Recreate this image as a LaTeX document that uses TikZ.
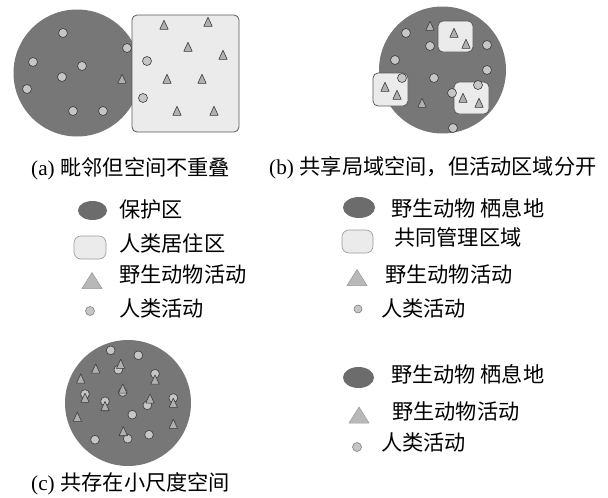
\documentclass[tikz,border=0pt]{standalone}
\usepackage{fontspec}
\setmainfont{Liberation Serif}
\newfontfamily\cjk{Noto Sans CJK SC}
\definecolor{zonegray}{HTML}{777777}
\definecolor{leggray}{HTML}{6C6C6C}
\definecolor{settlefill}{HTML}{EBEBEB}
\definecolor{markfill}{HTML}{C6C6C6}
\definecolor{trifill}{HTML}{B0B0B0}
\definecolor{markline}{HTML}{3C3C3C}
\begin{document}
\begin{tikzpicture}[x=1pt,y=-1pt,
  bigzone/.style={fill=zonegray},
  settle/.style={fill=settlefill,draw=black!65,line width=0.8pt,rounded corners=5pt},
  hum/.style={fill=markfill,draw=markline,line width=0.6pt},
  tristyle/.style={fill=trifill,draw=markline,line width=0.6pt,line join=round},
  wtri/.pic={\path[tristyle] (-4.2,4.4) -- (4.2,4.4) -- (0,-4.8) -- cycle;},
  legtri/.pic={\path[fill=trifill!90!white,draw=black!40,line width=0.5pt] (-10,8) -- (10,8) -- (0,-8) -- cycle;},
  legell/.style={fill=leggray},
  legbox/.style={fill=settlefill,draw=black!40,line width=0.6pt,rounded corners=7pt},
  leghum/.style={fill=markfill,draw=black!55,line width=0.5pt},
  txt/.style={anchor=base west,inner sep=0pt,font=\fontsize{21.2}{25}\selectfont\cjk}
]
\useasboundingbox (0,0) rectangle (608,498);

% ---------- panel (a)
\fill[bigzone] (77,73) circle (63.5);
\draw[settle] (132,15) rectangle (239,132);
\foreach \x/\y in {63/33,127/48,33/62,82/66,62/77,27/89,73/111,103/111,147/61,143/98}
  \draw[hum] (\x,\y) circle (4.5);
\foreach \x/\y in {164/25,208/22,188/47,223/55,122/79,167/79,202/79,177/111,214/111}
  \pic at (\x,\y) {wtri};
\node[txt] (capa) at (31,175) {{\rmfamily(a)}\hspace{1pt} 毗邻但空间不重叠};

% ---------- panel (b)
\fill[bigzone] (442.5,70) circle (63.5);
\draw[settle] (438,21) rectangle (473,52);
\draw[settle] (373,73) rectangle (408,106);
\draw[settle] (454,82) rectangle (489,114);
\foreach \x/\y in {430/26,454/33,466/44,385/87,397/95,422/103,463/98,479/103}
  \pic at (\x,\y) {wtri};
\foreach \x/\y in {406/33,430/46,487/45,395/60,487/70,402/78,434/78,478/85,452/93,453/128}
  \draw[hum] (\x,\y) circle (4.5);
\node[txt] (capb) at (269,174) {{\rmfamily(b)}\hspace{1pt} 共享局域空间，但活动区域分开};

% ---------- legend (a)
\fill[legell] (92.5,210.5) ellipse [x radius=14.5,y radius=9.5];
\draw[legbox] (74,236) rectangle (106,259);
\pic at (92,280.5) {legtri};
\draw[leghum] (90,311) circle (4.5);
\node[txt] (la1) at (119,217) {保护区};
\node[txt] (la2) at (119,251.5) {人类居住区};
\node[txt] (la3) at (119,282.5) {野生动物活动};
\node[txt] (la4) at (119,316) {人类活动};

% ---------- legend (b)
\fill[legell] (359,207.5) ellipse [x radius=16,y radius=10.5];
\draw[legbox] (342,230) rectangle (373,253);
\pic at (357,277.5) {legtri};
\draw[leghum] (358,309) circle (4);
\node[txt] (lb1) at (391,216) {野生动物 栖息地};
\node[txt] (lb2) at (394,245) {共同管理区域};
\node[txt] (lb3) at (385,282) {野生动物活动};
\node[txt] (lb4) at (381,316) {人类活动};

% ---------- panel (c)
\fill[bigzone] (128,403) circle (63);
\foreach \x/\y in {110.7/350.3,138.3/355.3,118.3/369.7,155/373.7,85/394,122.7/392,105/401.3,147.3/405.3,173.3/398,132.3/414.7,127.7/438.7,149/434.7,95/439.7}
  \draw[hum] (\x,\y) circle (4.4);
\foreach \x/\y in {95.7/368.7,120.7/364,80.7/378.7,155/379.7,85/398,122.7/388.7,105/406.3,150/398.7,173.3/403,77.3/417,173.3/424,123.3/431.3}
  \pic at (\x,\y) {wtri};
\node[txt] (capc) at (31,490) {{\rmfamily(c)}\hspace{1pt} 共存在小尺度空间};

% ---------- legend (c)
\fill[legell] (358.5,377.5) ellipse [x radius=15.5,y radius=10.5];
\pic at (359,415) {legtri};
\draw[leghum] (357,447) circle (4.5);
\node[txt] (lc1) at (391,382) {野生动物 栖息地};
\node[txt] (lc2) at (392,419) {野生动物活动};
\node[txt] (lc3) at (381,450) {人类活动};
\end{tikzpicture}
\end{document}
